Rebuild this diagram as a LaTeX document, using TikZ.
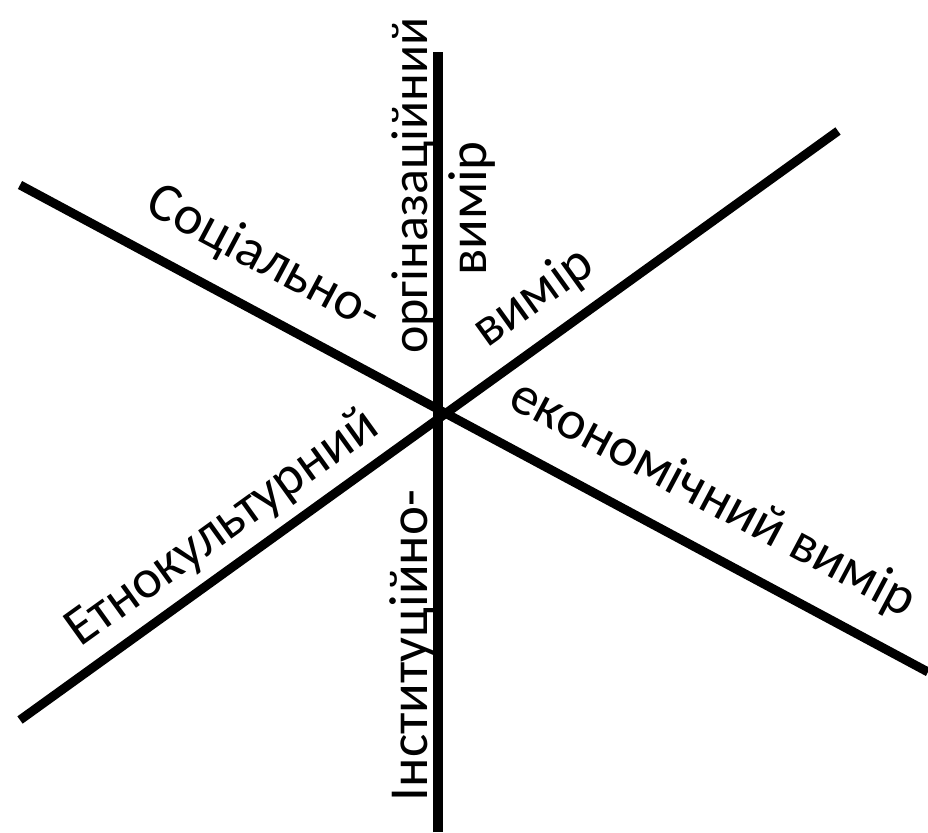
\documentclass[tikz,border=0pt]{standalone}
\usepackage{fontspec}
\setmainfont{Carlito}
\begin{document}
\begin{tikzpicture}[x=1pt,y=1pt,
  lbl/.style={inner sep=0pt, font=\fontsize{55}{60}\selectfont, anchor=base},
  axisline/.style={line width=9pt}]
\useasboundingbox (0,0) rectangle (928,832);
\coordinate (vt) at (438,780);
\coordinate (vb) at (438,0);
\coordinate (aL) at (20,647);
\coordinate (aR) at (928,160);
\coordinate (bL) at (20,112);
\coordinate (bR) at (838,701);
\draw[axisline, line width=10pt] (vb) -- (vt);
\draw[axisline] (aL) -- (aR);
\draw[axisline] (bL) -- (bR);
\node[lbl, rotate=-28] (t1) at (257,560) {Соціально-};
\node[lbl, rotate=-28] (t2) at (706,320) {економічний вимір};
\node[lbl, rotate=35.7] (t3) at (231,292) {Етнокультурний};
\node[lbl, rotate=35.7] (t4) at (542,522.4) {вимір};
\node[lbl, rotate=90, font=\fontsize{52}{58}\selectfont] (t5) at (427,646.5) {оргіназаційний};
\node[lbl, rotate=90] (t6) at (486,623.5) {вимір};
\node[lbl, rotate=90] (t7) at (427,186.5) {Інституційно-};
\end{tikzpicture}
\end{document}
